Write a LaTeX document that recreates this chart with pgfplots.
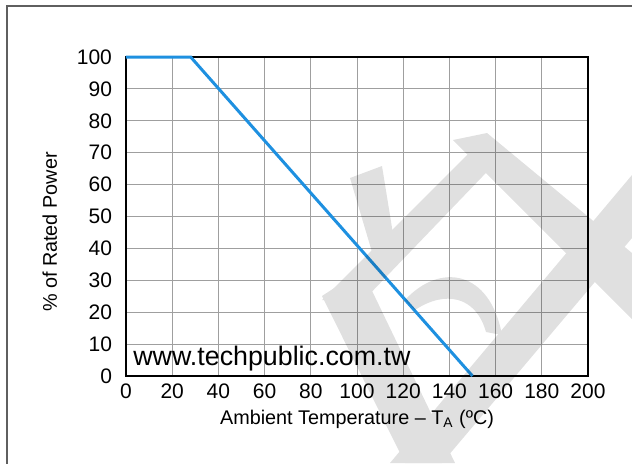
\documentclass[border=0pt]{standalone}
\usepackage{pgfplots}
\pgfplotsset{compat=1.18}
\usepackage{fontspec}
\setmainfont{Liberation Sans}
\definecolor{derate}{RGB}{30,144,224}
\definecolor{framegray}{RGB}{95,95,95}
\begin{document}
\begin{tikzpicture}
% pixel scope: (px,py) of the 632x463 reference
\begin{scope}[x=0.5pt,y=-0.5pt,shift={(-63pt,188pt)}]
  \useasboundingbox (0,0) rectangle (632,463);
  \draw[framegray, line width=0.8pt] (7,470) -- (7,6) -- (640,6);
\end{scope}
\begin{axis}[
    at={(0,0)}, anchor=south west,
    scale only axis,
    width=231pt, height=159.5pt,
    xmin=0, xmax=200, ymin=0, ymax=100,
    xtick distance=20, ytick distance=10,
    grid=major,
    major grid style={gray!75, line width=0.5pt},
    axis line style={black, line width=1.1pt},
    major tick length=0pt,
    tick label style={font=\fontsize{10.5}{11}\selectfont},
    /pgf/number format/assume math mode=true,
    yticklabel style={xshift=-3.5pt},
    xticklabel style={yshift=-0.5pt},
    xlabel={Ambient Temperature -- T\textsubscript{A} (ºC)},
    ylabel={\% of Rated Power},
    label style={font=\fontsize{9.9}{11}\selectfont},
    xlabel style={at={(axis description cs:0.5,-0.135)}, anchor=center},
    ylabel style={at={(axis description cs:-0.165,0.451)}, anchor=center},
    clip=false,
  ]
  \addplot[derate, line width=1.5pt] coordinates {
      (0, 100)
      (28, 100)
      (150, 0)
    };
  \node[anchor=base west, font=\fontsize{13.4}{14}\selectfont, inner sep=0pt]
    at (axis cs:0,0) [xshift=3.5pt, yshift=5.5pt] {www.techpublic.com.tw};
\end{axis}
% watermark
\begin{scope}[x=0.5pt,y=-0.5pt,shift={(-63pt,188pt)}]
  \begin{scope}[transparency group, opacity=0.12]
    \fill[black] (472,150) -- (506,152) -- (362,302) -- (322,300) -- cycle;
    \fill[black] (322,296) -- (362,270) -- (455,463) -- (405,463) -- cycle;
    \fill[black] (350,178) -- (382,166) -- (394,240) -- (372,252) -- cycle;
    \fill[black] (453,140) -- (487,133) -- (632,253) -- (632,319) -- cycle;
    \fill[black] (632,175) -- (632,238) -- (442,463) -- (390,463) -- cycle;
    \fill[black] (405,300) .. controls (440,262) and (490,270) .. (502,335)
      -- (486,332) .. controls (476,296) and (445,290) .. (415,310) -- cycle;
  \end{scope}
\end{scope}
\end{tikzpicture}
\end{document}
